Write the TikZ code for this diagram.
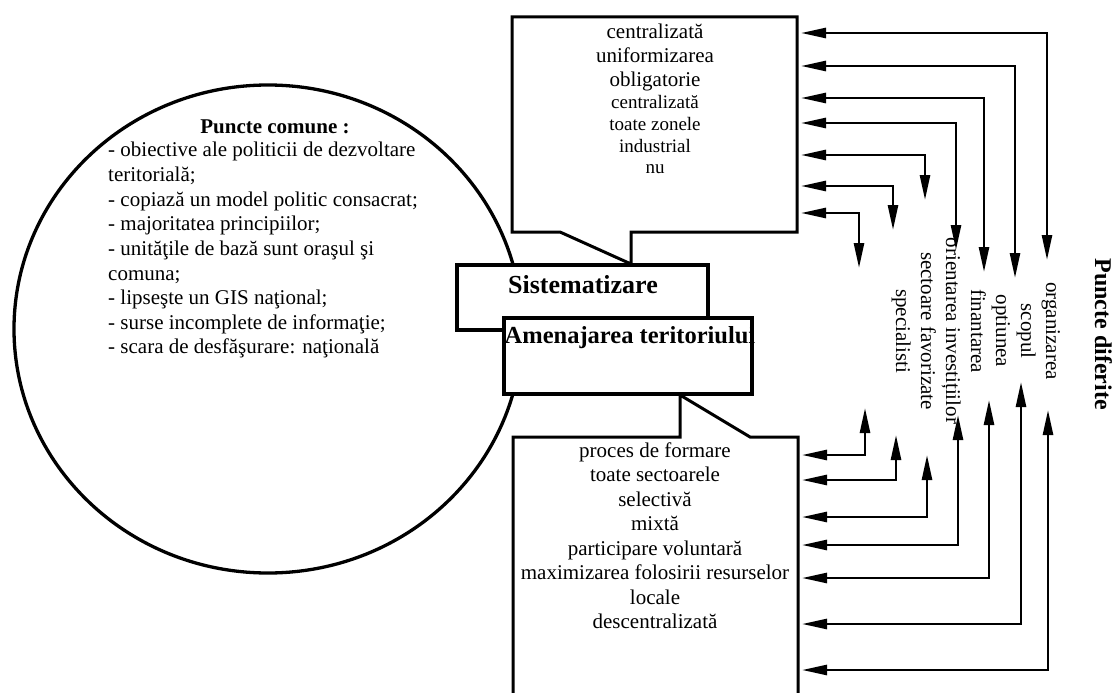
\documentclass[tikz,border=0pt]{standalone}
\usepackage{fontspec}
\setmainfont{Liberation Serif}
\usetikzlibrary{arrows.meta}
\begin{document}
\begin{tikzpicture}[x=1pt,y=-1pt,
  boxline/.style={draw=black, line width=3pt, fill=white, line join=miter},
  txt/.style={inner sep=0pt, anchor=base, font=\fontsize{21}{24}\selectfont},
  txtsm/.style={inner sep=0pt, anchor=base, font=\fontsize{19}{22}\selectfont},
  txtl/.style={inner sep=0pt, anchor=base west, font=\fontsize{21}{24}\selectfont},
  vtxt/.style={inner sep=0pt, anchor=base, rotate=-90, font=\fontsize{21}{24}\selectfont},
  conn/.style={line width=2.6pt, {Triangle[length=25pt,width=10pt]}-{Triangle[length=25pt,width=10pt]}},
]
\useasboundingbox (0,0) rectangle (1112,693);
\fill[white] (0,0) rectangle (1112,693);

% common points ellipse
\draw[line width=3.3pt] (268,329) ellipse [x radius=254, y radius=244];
\node[txt, font=\bfseries\fontsize{21}{24}\selectfont] (pc) at (275,133) {Puncte comune :};
\foreach \n/\t [count=\k from 0] in {
  1/{- obiective ale politicii de dezvoltare},
  2/{teritorială;},
  3/{- copiază un model politic consacrat;},
  4/{- majoritatea principiilor;},
  5/{- unităţile de bază sunt oraşul şi},
  6/{comuna;},
  7/{- lipseşte un GIS naţional;},
  8/{- surse incomplete de informaţie;},
  9/{- scara de desfăşurare: naţională}}
  \node[txtl] (c\n) at (108,157+24.6*\k) {\t};

% upper callout
\draw[boxline] (512,17) -- (797,17) -- (797,232) -- (631,232) -- (631,264) -- (560,232) -- (512,232) -- cycle;
\node[txt] (u1) at (655,39) {centralizată};
\node[txt] (u2) at (655,63) {uniformizarea};
\node[txt] (u3) at (655,87) {obligatorie};
\node[txtsm] (u4) at (655,109) {centralizată};
\node[txtsm] (u5) at (655,131) {toate zonele};
\node[txtsm] (u6) at (655,152) {industrial};
\node[txtsm] (u7) at (655,173) {nu};

% central boxes
\node[boxline, line width=3.5pt, minimum width=251pt, minimum height=65pt, inner sep=0pt] (sist) at (582.5,297.5) {};
\node[txt, font=\bfseries\fontsize{26}{30}\selectfont] (sistt) at (583,293) {Sistematizare};
\node[boxline, line width=4.5pt, minimum width=248pt, minimum height=76pt, inner sep=0pt] (amen) at (628,356) {};
\node[txt, font=\bfseries\fontsize{24.5}{28}\selectfont] (ament) at (630,343) {Amenajarea teritoriului};

% lower callout
\draw[boxline] (513,693) -- (513,437) -- (680,437) -- (680,395) -- (750,437) -- (798,437) -- (798,693);
\foreach \n/\t [count=\k from 0] in {
  1/{proces de formare},
  2/{toate sectoarele},
  3/{selectivă},
  4/{mixtă},
  5/{participare voluntară},
  6/{maximizarea folosirii resurselor},
  7/{locale},
  8/{descentralizată}}
  \node[txt] (l\n) at (655,457+24.5*\k) {\t};

% differing points
\foreach \n/\x/\t in {1/1046/organizarea, 2/1021/scopul, 3/996/optiunea, 4/971/finantarea,
  5/946/orientarea investițiilor, 6/921/sectoare favorizate, 7/896/specialisti}
  \node[vtxt] (d\n) at (\x,331) {\t};
\node[vtxt, font=\bfseries\fontsize{24}{28}\selectfont] (pd) at (1095,334) {Puncte diferite};

% connectors upper
\foreach \i/\yh/\xv/\yt in {1/33/1047/260, 2/66/1015/278, 3/98/984/272, 4/123/956/250,
  5/155/925/200, 6/186/893/230, 7/213/859/268} {
  \coordinate (ts\i) at (801,\yh);
  \coordinate (te\i) at (\xv,\yt);
  \draw[conn] (ts\i) -| (te\i);
}
% connectors lower
\foreach \i/\yh/\xv/\yt in {1/455/865/408, 2/480/896/435, 3/517/927/455, 4/545/958/415,
  5/578/989/400, 6/624/1021/382, 7/670/1048/410} {
  \coordinate (bs\i) at (802,\yh);
  \coordinate (be\i) at (\xv,\yt);
  \draw[conn] (bs\i) -| (be\i);
}
\end{tikzpicture}
\end{document}
